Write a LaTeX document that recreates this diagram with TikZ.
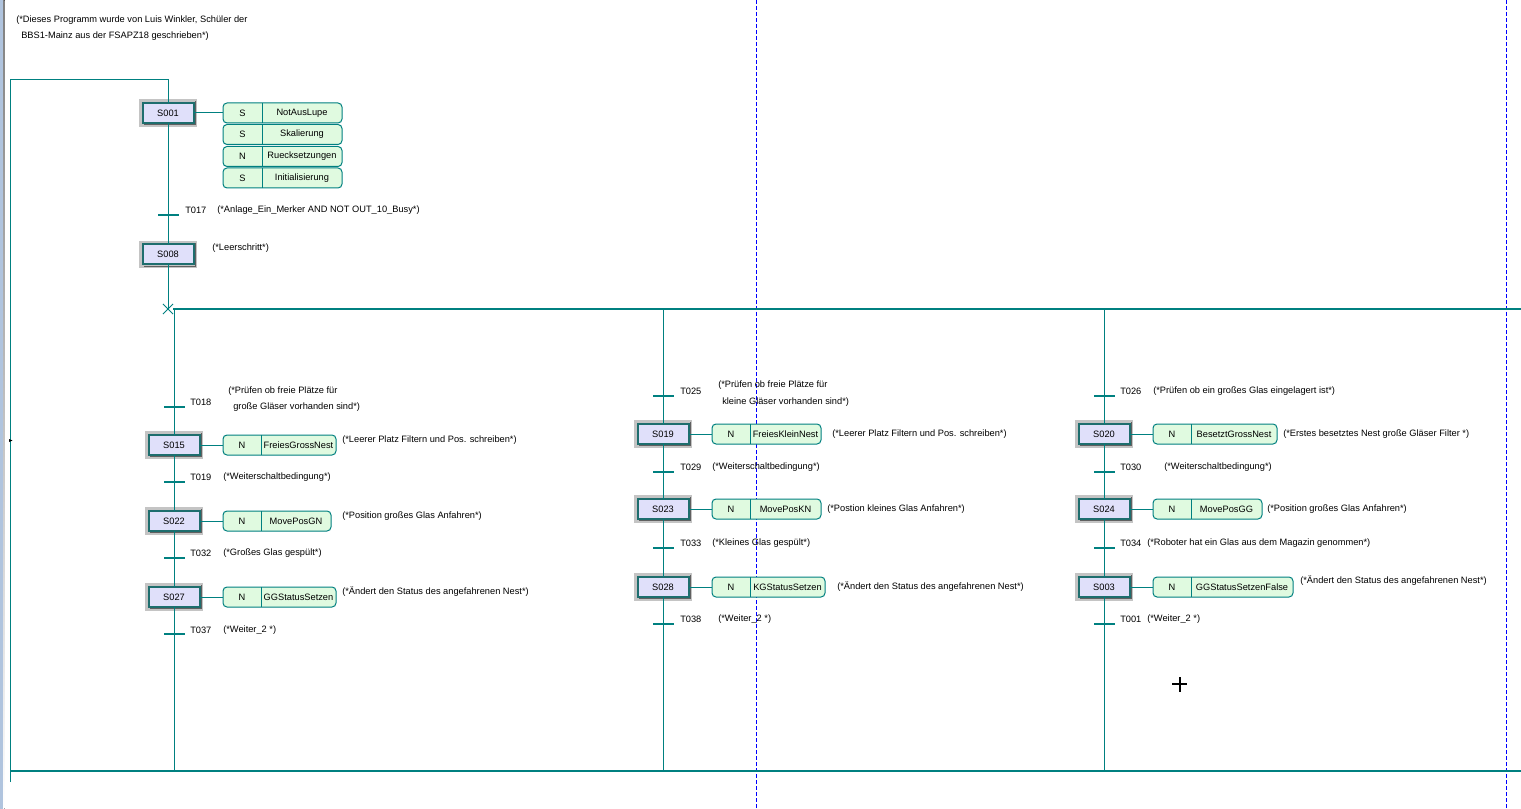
\documentclass[tikz,border=0pt]{standalone}
\usepackage{fontspec}
\setmainfont{Liberation Sans}
\usetikzlibrary{shapes.misc}
\definecolor{tl}{RGB}{0,128,128}
\definecolor{stepfill}{RGB}{224,224,250}
\definecolor{actfill}{RGB}{224,250,224}
\definecolor{stepedge}{RGB}{30,110,110}
\definecolor{frame}{RGB}{196,196,196}
\definecolor{shade}{RGB}{96,96,96}
\definecolor{edgebar}{RGB}{176,196,222}
\newcommand\sfcstep[4]{%
  \node[stepbox] (#1) at (#2,#3) {#4};
  \draw[stepshade] ([shift={(1.3pt,-1.3pt)}]#1.south west) -| ([shift={(1.3pt,1.3pt)}]#1.north east);}
\newcommand\sfcact[7]{% name, xl, xd, xr, y, qualifier, text
  \node[actbox, minimum width={(#4-#2)*0.75pt}] (#1) at (#2,#5) {};
  \coordinate (#1d1) at (#3,#5-10);
  \coordinate (#1d2) at (#3,#5+10);
  \draw[conn] (#1d1) -- (#1d2);
  \node[txt, anchor=center] (#1q) at ({(#2+#3)/2},#5) {#6};
  \node[txt, anchor=center] (#1t) at ({(#3+#4)/2},#5) {#7};}
\begin{document}
\begin{tikzpicture}[x=0.75pt,y=-0.75pt,
  txt/.style={font=\fontsize{6.95pt}{8.4pt}\selectfont, inner sep=0pt, anchor=west, text=black},
  conn/.style={draw=tl, line width=0.75pt},
  thickconn/.style={draw=tl, line width=1.5pt},
  stepbox/.style={draw=stepedge, line width=1.5pt, fill=stepfill, minimum width=38.25pt, minimum height=15pt,
    inner sep=0pt, outer sep=0pt, font=\fontsize{6.95pt}{8.4pt}\selectfont,
    preaction={draw=frame, line width=5.5pt}},
  stepshade/.style={draw=shade, line width=0.75pt},
  actbox/.style={draw=tl, line width=0.75pt, fill=actfill, rounded corners=3pt, minimum height=15pt,
    inner sep=0pt, outer sep=0pt, anchor=west},
  tbar/.style={fill=tl, inner sep=0pt, outer sep=0pt, minimum width=15.75pt, minimum height=1.6pt},
  crossmark/.style={cross out, draw=tl, line width=0.6pt, minimum size=7pt, inner sep=0pt},
  guide/.style={draw=blue, line width=0.75pt, dash pattern=on 3pt off 1.5pt}]
\useasboundingbox (0,0) rectangle (1521,809);
\fill[white] (0,0) rectangle (1521,809);
% left window edge
\fill[edgebar] (0,0) rectangle (3,809);
\fill[shade] (3,0) rectangle (4.5,809);
% guide lines
\draw[guide] (756,0) -- (756,809);
\draw[guide] (1506,0) -- (1506,809);
% header comment
\node[txt] (hd1) at (16,20) {(*Dieses Programm wurde von Luis Winkler, Schüler der};
\node[txt] (hd2) at (21,36) {BBS1-Mainz aus der FSAPZ18 geschrieben*)};
% initial part
\sfcstep{S001}{168}{113}{S001}
\sfcact{A1}{223}{262}{342}{113}{S}{NotAusLupe}
\sfcact{A2}{223}{262}{342}{134.5}{S}{Skalierung}
\sfcact{A3}{223}{262}{342}{156.5}{N}{Ruecksetzungen}
\sfcact{A4}{223}{262}{342}{178}{S}{Initialisierung}
\draw[conn] (S001) -- (A1);
\node[tbar] (T017) at (168,215) {};
\node[txt] (T017l) at (185,210) {T017};
\node[txt] (T017c) at (217,210) {(*Anlage\_Ein\_Merker AND NOT OUT\_10\_Busy*)};
\sfcstep{S008}{168}{254.5}{S008}
\node[txt] (S008c) at (212,248) {(*Leerschritt*)};
\node[crossmark] (X) at (168,309) {};
\coordinate (L0) at (10,782);
\coordinate (L1) at (10,80);
\coordinate (L2) at (168,80);
\draw[conn] (L0) -- (L1) -- (L2) -- (S001);
\draw[conn] (S001) -- (T017) -- (S008) -- (X.center);
% branch and end lines
\coordinate (B0) at (173,309);
\coordinate (B1) at (1521,309);
\draw[thickconn] (B0) -- (B1);
\coordinate (E0) at (10,771);
\coordinate (E1) at (1521,771);
\draw[thickconn] (E0) -- (E1);
% column 1
\coordinate (C1a) at (174,309);
\coordinate (C1b) at (174,771);
\node[tbar] (T018) at (174,407) {};
\node[txt] (T018l) at (190,402) {T018};
\node[txt] (T018c1) at (228,391) {(*Prüfen ob freie Plätze für};
\node[txt] (T018c2) at (233,407) {große Gläser vorhanden sind*)};
\sfcstep{S015}{174}{445}{S015}
\sfcact{A15}{223}{261}{336}{445}{N}{FreiesGrossNest}
\node[txt] (S015c) at (342,440) {(*Leerer Platz Filtern und Pos. schreiben*)};
\node[tbar] (T019) at (174,482) {};
\node[txt] (T019l) at (190,477) {T019};
\node[txt] (T019c) at (223,477) {(*Weiterschaltbedingung*)};
\sfcstep{S022}{174}{521}{S022}
\sfcact{A22}{223}{261}{331}{521}{N}{MovePosGN}
\node[txt] (S022c) at (342,516) {(*Position großes Glas Anfahren*)};
\node[tbar] (T032) at (174,558) {};
\node[txt] (T032l) at (190,553) {T032};
\node[txt] (T032c) at (223,553) {(*Großes Glas gespült*)};
\sfcstep{S027}{174}{597}{S027}
\sfcact{A27}{223}{261}{336}{597}{N}{GGStatusSetzen}
\node[txt] (S027c) at (342,592) {(*Ändert den Status des angefahrenen Nest*)};
\node[tbar] (T037) at (174,634) {};
\node[txt] (T037l) at (190,630) {T037};
\node[txt] (T037c) at (223,630) {(*Weiter\_2 *)};
\draw[conn] (C1a) -- (T018) -- (S015) -- (T019) -- (S022) -- (T032) -- (S027) -- (T037) -- (C1b);
\draw[conn] (S015) -- (A15);
\draw[conn] (S022) -- (A22);
\draw[conn] (S027) -- (A27);
% column 2
\coordinate (C2a) at (663,309);
\coordinate (C2b) at (663,771);
\node[tbar] (T025) at (663,396) {};
\node[txt] (T025l) at (680,391) {T025};
\node[txt] (T025c1) at (718,385) {(*Prüfen ob freie Plätze für};
\node[txt] (T025c2) at (722,402) {kleine Gläser vorhanden sind*)};
\sfcstep{S019}{663}{434}{S019}
\sfcact{A19}{712}{750}{821}{434}{N}{FreiesKleinNest}
\node[txt] (S019c) at (832,434) {(*Leerer Platz Filtern und Pos. schreiben*)};
\node[tbar] (T029) at (663,472) {};
\node[txt] (T029l) at (680,467) {T029};
\node[txt] (T029c) at (712,467) {(*Weiterschaltbedingung*)};
\sfcstep{S023}{663}{509}{S023}
\sfcact{A23}{712}{750}{821}{509}{N}{MovePosKN}
\node[txt] (S023c) at (827,509) {(*Postion kleines Glas Anfahren*)};
\node[tbar] (T033) at (663,548) {};
\node[txt] (T033l) at (680,543) {T033};
\node[txt] (T033c) at (712,543) {(*Kleines Glas gespült*)};
\sfcstep{S028}{663}{587}{S028}
\sfcact{A28}{712}{750}{825}{587}{N}{KGStatusSetzen}
\node[txt] (S028c) at (837,587) {(*Ändert den Status des angefahrenen Nest*)};
\node[tbar] (T038) at (663,624) {};
\node[txt] (T038l) at (680,619) {T038};
\node[txt] (T038c) at (718,619) {(*Weiter\_2 *)};
\draw[conn] (C2a) -- (T025) -- (S019) -- (T029) -- (S023) -- (T033) -- (S028) -- (T038) -- (C2b);
\draw[conn] (S019) -- (A19);
\draw[conn] (S023) -- (A23);
\draw[conn] (S028) -- (A28);
% column 3
\coordinate (C3a) at (1104,309);
\coordinate (C3b) at (1104,771);
\node[tbar] (T026) at (1104,396) {};
\node[txt] (T026l) at (1120,391) {T026};
\node[txt] (T026c) at (1153,391) {(*Prüfen ob ein großes Glas eingelagert ist*)};
\sfcstep{S020}{1104}{434}{S020}
\sfcact{A20}{1153}{1191}{1277}{434}{N}{BesetztGrossNest}
\node[txt] (S020c) at (1283,434) {(*Erstes besetztes Nest große Gläser Filter *)};
\node[tbar] (T030) at (1104,472) {};
\node[txt] (T030l) at (1120,467) {T030};
\node[txt] (T030c) at (1164,467) {(*Weiterschaltbedingung*)};
\sfcstep{S024}{1104}{509}{S024}
\sfcact{A24}{1153}{1191}{1262}{509}{N}{MovePosGG}
\node[txt] (S024c) at (1267,509) {(*Position großes Glas Anfahren*)};
\node[tbar] (T034) at (1104,548) {};
\node[txt] (T034l) at (1120,543) {T034};
\node[txt] (T034c) at (1147,543) {(*Roboter hat ein Glas aus dem Magazin genommen*)};
\sfcstep{S003}{1104}{587}{S003}
\sfcact{A03}{1153}{1191}{1293}{587}{N}{GGStatusSetzenFalse}
\node[txt] (S003c) at (1300,581) {(*Ändert den Status des angefahrenen Nest*)};
\node[tbar] (T001) at (1104,624) {};
\node[txt] (T001l) at (1120,619) {T001};
\node[txt] (T001c) at (1147,619) {(*Weiter\_2 *)};
\draw[conn] (C3a) -- (T026) -- (S020) -- (T030) -- (S024) -- (T034) -- (S003) -- (T001) -- (C3b);
\draw[conn] (S020) -- (A20);
\draw[conn] (S024) -- (A24);
\draw[conn] (S003) -- (A03);
% small marks
\fill[black] (9,439) -- (12.5,440.5) -- (9,442) -- cycle;
\draw[black, line width=1.5pt] (1172,684) -- (1187,684);
\draw[black, line width=1.5pt] (1180,677) -- (1180,692);
\end{tikzpicture}
\end{document}
